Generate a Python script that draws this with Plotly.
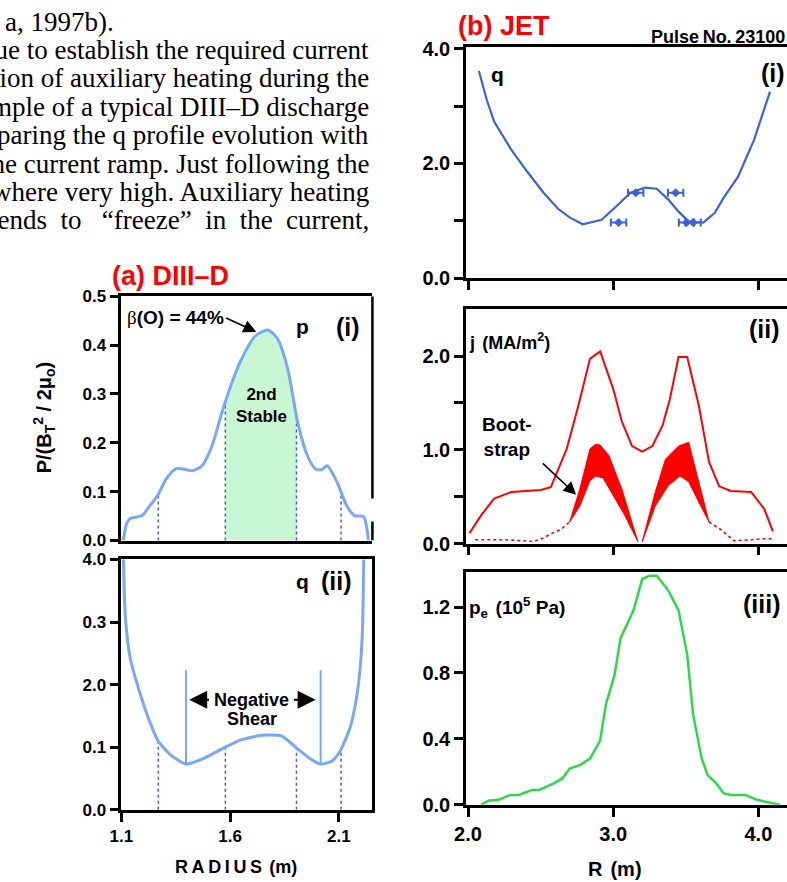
import numpy as np
import plotly.graph_objects as go

W, H = 787, 882
# the photographed page shows the figure 9 px lower and 2 % shorter than laid out;
# these helpers convert reference-picture pixels into paper fractions accordingly
def px(x):
    return x / W
def py(y):
    return 1 - (y - 9) / 864.4

SANS = "Liberation Sans, Arial, sans-serif"
SERIF = "Liberation Serif, Times New Roman, serif"

# ---------------- data ----------------
# (a)(i) DIII-D pressure profile
a_R = [1.109, 1.125, 1.141, 1.195, 1.231, 1.267, 1.308, 1.353, 1.400, 1.427, 1.471, 1.517, 1.563,
       1.609, 1.652, 1.715, 1.774, 1.819, 1.865, 1.910, 1.955, 1.991, 2.020, 2.046, 2.091,
       2.136, 2.172, 2.213, 2.236]
a_p = [0.0, 0.035, 0.045, 0.051, 0.071, 0.092, 0.127, 0.147, 0.145, 0.143, 0.153, 0.194, 0.263,
       0.324, 0.371, 0.418, 0.431, 0.412, 0.351, 0.243, 0.174, 0.147, 0.145, 0.153, 0.120,
       0.071, 0.051, 0.049, 0.0]
stable_lo, stable_hi = 1.578, 1.905
dotted_R = [1.27, 1.578, 1.905, 2.11]

# (a)(ii) DIII-D q profile (plotted on the linear 0..4 scale of the figure)
aq_R = [1.108, 1.110, 1.118, 1.141, 1.178, 1.224, 1.269, 1.322, 1.397, 1.472, 1.578, 1.653,
        1.744, 1.835, 1.905, 1.970, 2.016, 2.068, 2.106, 2.151, 2.181, 2.199, 2.208, 2.214, 2.215]
aq_q = [4.6, 4.0, 3.11, 2.42, 1.95, 1.47, 1.10, 0.89, 0.73, 0.81, 1.00, 1.12,
        1.19, 1.18, 0.99, 0.81, 0.73, 0.78, 0.94, 1.31, 1.79, 2.32, 2.85, 4.0, 4.6]
aq_ticks = [0, 1, 2, 3, 4]
aq_ticktext = ["0.0", "0.1", "2.0", "0.3", "4.0"]
shear_R = [1.397, 2.016]
shear_top = 2.23

# (b)(i) JET q profile
bq_R = [2.075, 2.13, 2.18, 2.30, 2.41, 2.52, 2.62, 2.70, 2.79, 2.92, 3.02, 3.12, 3.22, 3.30,
        3.38, 3.45, 3.52, 3.62, 3.70, 3.76, 3.86, 3.97, 4.08]
bq_q = [3.61, 3.10, 2.73, 2.23, 1.85, 1.49, 1.21, 1.06, 0.94, 1.02, 1.25, 1.49, 1.58, 1.56,
        1.37, 1.16, 0.99, 0.97, 1.14, 1.40, 1.77, 2.41, 3.25]
mse_R = [3.037, 3.155, 3.43, 3.505, 3.55]
mse_q = [0.97, 1.49, 1.49, 0.97, 0.97]
mse_err = [0.053, 0.053, 0.053, 0.053, 0.053]

# (b)(ii) JET current density
j_R = [2.01, 2.09, 2.18, 2.30, 2.50, 2.57, 2.68, 2.76, 2.84, 2.91, 3.00, 3.06, 3.13, 3.20,
       3.27, 3.34, 3.39, 3.45, 3.51, 3.59, 3.66, 3.73, 3.81, 3.95, 4.04, 4.10]
j_v = [0.11, 0.30, 0.48, 0.55, 0.57, 0.60, 1.01, 1.47, 1.97, 2.05, 1.65, 1.30, 1.04, 0.98,
       1.04, 1.26, 1.54, 1.99, 1.99, 1.47, 0.87, 0.61, 0.56, 0.55, 0.37, 0.13]
# bootstrap current band
bs_base_R = [2.05, 2.15, 2.25, 2.37, 2.45, 2.52, 2.58, 2.64, 2.70]
bs_base_v = [0.04, 0.04, 0.04, 0.03, 0.02, 0.06, 0.11, 0.15, 0.23]
bs_edge_R = [3.66, 3.70, 3.74, 3.81, 3.83, 3.95, 4.02, 4.10]
bs_edge_v = [0.23, 0.19, 0.15, 0.06, 0.03, 0.04, 0.05, 0.05]
bsL_up_R = [2.70, 2.77, 2.84, 2.88, 2.91, 2.97, 3.06, 3.17]
bsL_up_v = [0.23, 0.58, 1.01, 1.06, 1.05, 0.94, 0.58, 0.02]
bsL_lo_R = [2.70, 2.77, 2.84, 2.88, 2.93, 3.00, 3.08, 3.17]
bsL_lo_v = [0.23, 0.40, 0.67, 0.72, 0.70, 0.51, 0.30, 0.02]
bsR_up_R = [3.20, 3.29, 3.36, 3.45, 3.52, 3.56, 3.63, 3.66]
bsR_up_v = [0.02, 0.55, 0.90, 1.04, 1.08, 0.83, 0.40, 0.23]
bsR_lo_R = [3.20, 3.29, 3.38, 3.46, 3.52, 3.59, 3.66]
bsR_lo_v = [0.02, 0.40, 0.62, 0.72, 0.66, 0.44, 0.23]

# (b)(iii) JET electron pressure
pe_R = [2.09, 2.14, 2.21, 2.29, 2.35, 2.44, 2.49, 2.59, 2.65, 2.70, 2.77, 2.84, 2.91, 2.95,
        3.01, 3.05, 3.14, 3.20, 3.25, 3.30, 3.38, 3.45, 3.51, 3.55, 3.61, 3.65, 3.71, 3.76,
        3.81, 3.91, 3.99, 4.15]
pe_v = [0.0, 0.025, 0.03, 0.06, 0.06, 0.09, 0.09, 0.13, 0.16, 0.22, 0.24, 0.28, 0.39, 0.61,
        0.79, 1.01, 1.18, 1.37, 1.39, 1.39, 1.30, 1.18, 0.91, 0.55, 0.28, 0.18, 0.13, 0.07,
        0.06, 0.06, 0.03, 0.0]

# ---------------- colours ----------------
C_LB = "#78a8f6"
C_DOT = "#3f5fe0"
C_GREEN_FILL = "#c9f6d3"
C_BQ = "#3c62d8"
C_RED = "#ff0000"
C_PE = "#2fd84a"

fig = go.Figure()

# (a)(i)
stable_R = [stable_lo] + [r for r in a_R if stable_lo < r < stable_hi] + [stable_hi]
stable_p = list(np.interp(stable_R, a_R, a_p))
fig.add_trace(go.Scatter(x=stable_R, y=stable_p, mode="lines", fill="tozeroy",
                         fillcolor=C_GREEN_FILL, line=dict(width=0, shape="spline"),
                         xaxis="x", yaxis="y", hoverinfo="skip"))
dx, dy = [], []
for r in dotted_R:
    dx += [r, r, None]
    dy += [0, float(np.interp(r, a_R, a_p)), None]
fig.add_trace(go.Scatter(x=dx, y=dy, mode="lines", line=dict(color=C_DOT, width=1.5, dash="dot"),
                         xaxis="x", yaxis="y"))
fig.add_trace(go.Scatter(x=a_R, y=a_p, mode="lines",
                         line=dict(color=C_LB, width=3, shape="spline", smoothing=0.7),
                         xaxis="x", yaxis="y"))

# (a)(ii)
dx, dy = [], []
for r in dotted_R:
    dx += [r, r, None]
    dy += [0, float(np.interp(r, aq_R, aq_q)), None]
fig.add_trace(go.Scatter(x=dx, y=dy, mode="lines", line=dict(color=C_DOT, width=1.5, dash="dot"),
                         xaxis="x2", yaxis="y2"))
sx, sy = [], []
for r in shear_R:
    sx += [r, r, None]
    sy += [float(np.interp(r, aq_R, aq_q)), shear_top, None]
fig.add_trace(go.Scatter(x=sx, y=sy, mode="lines", line=dict(color=C_LB, width=2),
                         xaxis="x2", yaxis="y2"))
fig.add_trace(go.Scatter(x=aq_R, y=aq_q, mode="lines",
                         line=dict(color=C_LB, width=3, shape="spline", smoothing=0.6),
                         xaxis="x2", yaxis="y2"))

# (b)(i)
fig.add_trace(go.Scatter(x=bq_R, y=bq_q, mode="lines", line=dict(color=C_BQ, width=2.2),
                         xaxis="x3", yaxis="y3"))
fig.add_trace(go.Scatter(x=mse_R, y=mse_q, mode="markers",
                         marker=dict(symbol="diamond", size=7, color=C_BQ),
                         error_x=dict(type="data", array=mse_err, color=C_BQ, thickness=2, width=4),
                         xaxis="x3", yaxis="y3"))

# (b)(ii)
for upR, upV, loR, loV in [(bsL_up_R, bsL_up_v, bsL_lo_R, bsL_lo_v),
                           (bsR_up_R, bsR_up_v, bsR_lo_R, bsR_lo_v)]:
    fig.add_trace(go.Scatter(x=list(upR) + list(loR[::-1]), y=list(upV) + list(loV[::-1]),
                             mode="lines", fill="toself", fillcolor=C_RED,
                             line=dict(color=C_RED, width=1), xaxis="x4", yaxis="y4"))
for bR, bV in [(bs_base_R, bs_base_v), (bs_edge_R, bs_edge_v)]:
    fig.add_trace(go.Scatter(x=bR, y=bV, mode="lines", line=dict(color=C_RED, width=1.6, dash="dot"),
                             xaxis="x4", yaxis="y4"))
fig.add_trace(go.Scatter(x=j_R, y=j_v, mode="lines", line=dict(color=C_RED, width=2),
                         xaxis="x4", yaxis="y4"))

# (b)(iii)
fig.add_trace(go.Scatter(x=pe_R, y=pe_v, mode="lines", line=dict(color=C_PE, width=2.5),
                         xaxis="x5", yaxis="y5"))

# ---------------- axes ----------------
tick_a = dict(family=SANS, size=17, color="black", weight="bold")
tick_b = dict(family=SANS, size=20, color="black", weight="bold")
common = dict(showline=True, linecolor="black", linewidth=2.5, showgrid=False, zeroline=False,
              ticks="outside", tickcolor="black", tickwidth=2.5, ticklen=9)

xa_dom = [px(111), px(366)]
xb_dom = [px(461), 1.0]
xa_rng = [1.1, 2.254]
xb_rng = [1.986, 4.197]

fig.update_layout(
    xaxis=dict(**{**common, "ticks": ""}, domain=xa_dom, range=xa_rng, anchor="y", mirror=True,
               showticklabels=False),
    yaxis=dict(**common, domain=[py(542), py(297)], range=[0, 0.5], anchor="x",
               tickvals=[0, 0.1, 0.2, 0.3, 0.4, 0.5], tickformat=".1f", tickfont=tick_a),
    xaxis2=dict(**common, domain=xa_dom, range=xa_rng, anchor="y2", mirror=True,
                tickvals=[1.1, 1.6, 2.1], ticktext=["1.1", "1.6", "2.1"], tickfont=tick_a),
    yaxis2=dict(**common, domain=[py(812), py(561)], range=[0, 4], anchor="x2", mirror=True,
                tickvals=aq_ticks, ticktext=aq_ticktext, tickfont=tick_a),
    xaxis3=dict(**common, domain=xb_dom, range=xb_rng, anchor="y3", mirror=True,
                tickvals=[2, 3, 4], showticklabels=False),
    yaxis3=dict(**common, domain=[py(279), py(47)], range=[0, 4.03], anchor="x3",
                tickvals=[0, 1, 2, 3, 4], ticktext=["0.0", " ", "2.0", " ", "4.0"], tickfont=tick_b),
    xaxis4=dict(**common, domain=xb_dom, range=xb_rng, anchor="y4", mirror=True,
                tickvals=[2, 3, 4], showticklabels=False),
    yaxis4=dict(**common, domain=[py(545), py(310)], range=[0, 2.5], anchor="x4",
                tickvals=[0, 0.5, 1, 1.5, 2], ticktext=["0.0", " ", "1.0", " ", "2.0"], tickfont=tick_b),
    xaxis5=dict(**common, domain=xb_dom, range=xb_rng, anchor="y5", mirror=True,
                tickvals=[2, 3, 4], ticktext=["2.0", "3.0", "4.0"], tickfont=tick_b),
    yaxis5=dict(**common, domain=[py(807), py(574)], range=[0, 1.41], anchor="x5",
                tickvals=[0, 0.4, 0.8, 1.2], tickformat=".1f", tickfont=tick_b),
    width=W, height=H, margin=dict(l=0, r=0, t=0, b=0),
    paper_bgcolor="white", plot_bgcolor="white", showlegend=False,
)

# right border of (a)(i) with its small gap
for y0, y1 in [(0.086, 0.5), (0.0, 0.039)]:
    fig.add_shape(type="line", xref="x domain", yref="y", x0=1, x1=1, y0=y0, y1=y1,
                  line=dict(color="black", width=2.5))

# ---------------- annotations ----------------
ann = []
def txt(text, x, y, xref, yref, size, xanchor="center", color="black", bold=True, family=SANS, yanchor="middle"):
    ann.append(dict(text=text, x=x, y=y, xref=xref, yref=yref, showarrow=False,
                    xanchor=xanchor, yanchor=yanchor,
                    font=dict(family=family, size=size, color=color,
                              weight="bold" if bold else "normal")))

# body text of the page (serif)
NB = "\u00a0"
body = [
    ("que to establish the required current", 50),
    ("ation of auxiliary heating during the", 78.5),
    ("mple of a typical DIII–D discharge", 107),
    ("paring the q profile evolution with", 135.5),
    ("the current ramp. Just following the", 164),
    ("where very high. Auxiliary heating", 192.5),
    ("tends" + NB * 2 + "to" + NB * 3 + "“freeze”" + NB * 2 + "in" + NB * 2 + "the" + NB * 2 + "current,", 221),
]
for t, yy in body:
    txt(t, px(365), py(yy), "paper", "paper", 27, xanchor="right", bold=False, family=SERIF)
txt("a, 1997b).", px(-9), py(22), "paper", "paper", 27, xanchor="left", bold=False, family=SERIF)

# titles
txt("(a) DIII–D", px(100), py(277), "paper", "paper", 27, xanchor="left", color=C_RED)
txt("(b) JET", px(451), py(26), "paper", "paper", 27, xanchor="left", color=C_RED)
txt("Pulse\u2009No.\u200923100", 1.0, py(37), "paper", "paper", 18, xanchor="right")

# (a)(i)
txt("<span style='font-weight:normal;font-family:Liberation Serif'>β</span>(O) = 44%",
    1.35, 0.457, "x", "y", 19)
txt("p", 1.933, 0.437, "x", "y", 21)
txt("(i)", 2.14, 0.437, "x", "y", 25)
txt("2nd<br>Stable", 1.743, 0.277, "x", "y", 17)
ann.append(dict(x=1.72, y=0.427, ax=1.575, ay=0.457, xref="x", yref="y", axref="x", ayref="y",
                showarrow=True, arrowhead=2, arrowsize=1.6, arrowwidth=1.6, arrowcolor="black", text=""))
txt("P/(B<sub>T</sub><sup>2</sup> / 2μ<sub>o</sub>)", px(33), py(418), "paper", "paper", 20)
ann[-1]["textangle"] = -90

# (a)(ii)
txt("q", 1.933, 3.65, "x2", "y2", 21)
txt("(ii)", 2.09, 3.65, "x2", "y2", 25)
txt("Negative", 1.699, 1.76, "x2", "y2", 18)
txt("Shear", 1.699, 1.45, "x2", "y2", 18)
ann.append(dict(x=1.412, y=1.76, ax=1.51, ay=1.76, xref="x2", yref="y2", axref="x2", ayref="y2",
                showarrow=True, arrowhead=2, arrowsize=1.8, arrowwidth=2, arrowcolor="black", text=""))
ann.append(dict(x=1.993, y=1.76, ax=1.887, ay=1.76, xref="x2", yref="y2", axref="x2", ayref="y2",
                showarrow=True, arrowhead=2, arrowsize=1.8, arrowwidth=2, arrowcolor="black", text=""))
txt("R\u2009A\u2009D\u2009I\u2009U\u2009S\u2009\u2009(m)", px(227), py(869), "paper", "paper", 18)

# (b)(i)
txt("q", 2.20, 3.55, "x3", "y3", 21)
txt("(i)", 4.195, 3.57, "x3", "y3", 25, xanchor="right")

# (b)(ii)
txt("j\u2009\u2009(MA/m<sup>2</sup>)", 1.995, 2.15, "x4", "y4", 18, xanchor="left")
txt("(ii)", 4.16, 2.29, "x4", "y4", 25, xanchor="right")
txt("Boot-<br>strap", 2.085, 1.14, "x4", "y4", 19, xanchor="left")
ann.append(dict(x=2.745, y=0.52, ax=2.505, ay=0.87, xref="x4", yref="y4", axref="x4", ayref="y4",
                showarrow=True, arrowhead=2, arrowsize=1.6, arrowwidth=1.6, arrowcolor="black", text=""))

# (b)(iii)
txt("p<sub>e</sub>\u2009\u2009(10<sup>5</sup> Pa)", 1.995, 1.2, "x5", "y5", 19, xanchor="left")
txt("(iii)", 4.17, 1.22, "x5", "y5", 25, xanchor="right")
txt("R\u2009\u2009(m)", px(612), py(871), "paper", "paper", 20)

fig.update_layout(annotations=ann)
fig.write_html("out.html")
